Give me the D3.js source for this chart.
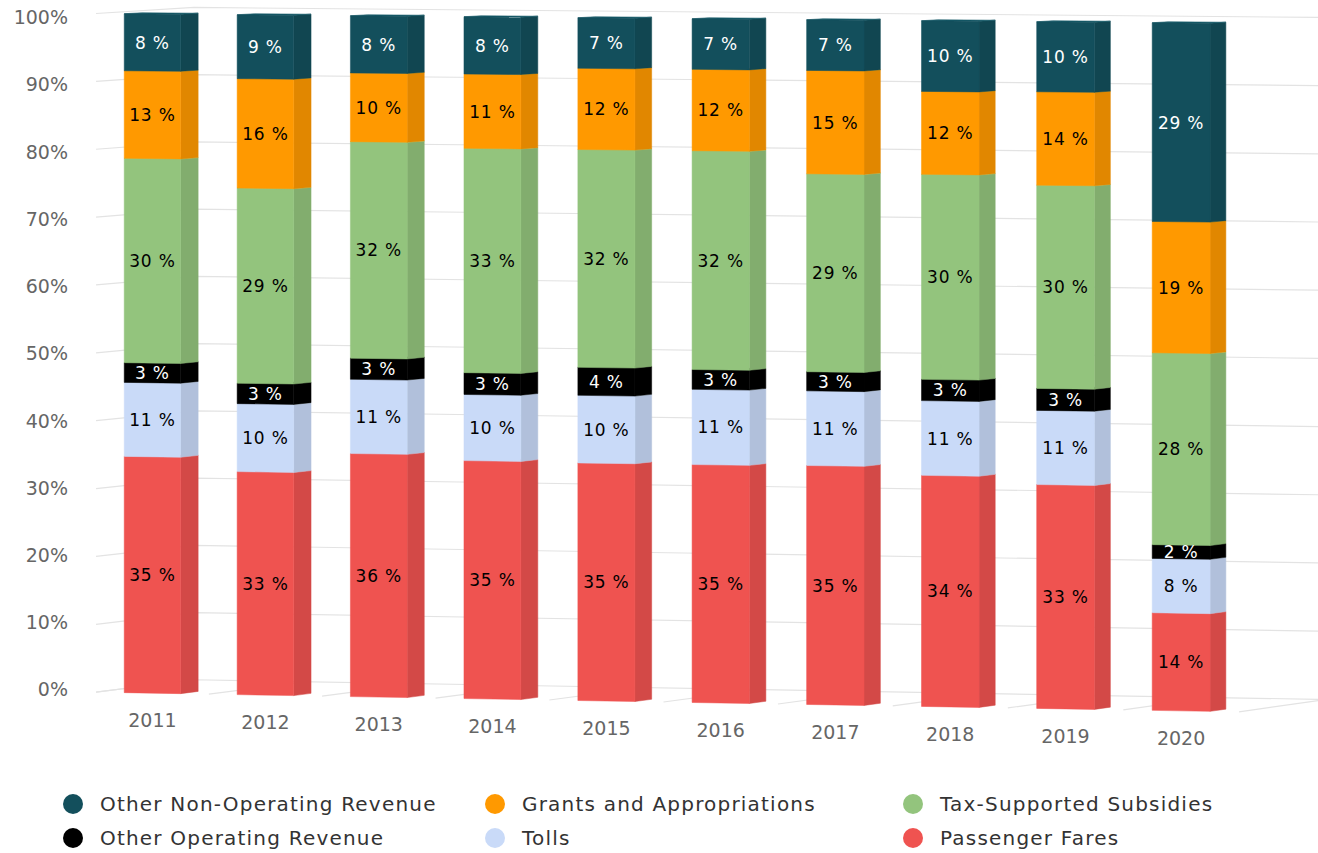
<!DOCTYPE html>
<html lang="en">
<head>
<meta charset="UTF-8">
<title>Revenue mix</title>
<style>
  body { margin: 0; background: #fff; }
  svg { display: block; font-family: "DejaVu Sans", sans-serif; }
</style>
</head>
<body>
<div id="chart"></div>
<script src="https://d3js.org/d3.v7.min.js"></script>
<script>

// ---- data (percent of total revenue) ----
const years = ["2011", "2012", "2013", "2014", "2015", "2016", "2017", "2018", "2019", "2020"];
const passengerFares    = [34.8, 32.8, 35.7, 34.9, 34.8, 34.8, 34.9, 33.7, 32.6, 14.2];
const tolls             = [10.9, 10.0, 10.9,  9.7,  9.9, 11.0, 10.9, 10.9, 10.8,  7.9];
const otherOperating    = [ 2.9,  3.0,  3.1,  3.2,  4.1,  2.9,  2.8,  3.1,  3.2,  2.0];
const taxSubsidies      = [30.1, 28.7, 31.8, 32.9, 31.9, 32.0, 28.9, 29.9, 29.6, 27.9];
const grants            = [12.9, 16.1, 10.1, 10.9, 11.9, 11.9, 15.1, 12.1, 13.6, 19.1];
const otherNonOperating = [ 8.4,  9.4,  8.4,  8.4,  7.4,  7.4,  7.4, 10.3, 10.2, 28.9];
const yTicks = [0, 10, 20, 30, 40, 50, 60, 70, 80, 90, 100];

// stack order, bottom to top
const series = [
  { key: "fares",  name: "Passenger Fares",             values: passengerFares,    color: "#ef5350", label: "#000" },
  { key: "tolls",  name: "Tolls",                       values: tolls,             color: "#c9daf8", label: "#000" },
  { key: "oper",   name: "Other Operating Revenue",     values: otherOperating,    color: "#000000", label: "#fff" },
  { key: "tax",    name: "Tax-Supported Subsidies",     values: taxSubsidies,      color: "#93c47d", label: "#000" },
  { key: "grants", name: "Grants and Appropriations",   values: grants,            color: "#ff9900", label: "#000" },
  { key: "nonop",  name: "Other Non-Operating Revenue", values: otherNonOperating, color: "#134f5c", label: "#fff" }
];
// legend order as in the picture
const legendOrder = ["nonop", "grants", "tax", "oper", "tolls", "fares"];

const width = 1318, height = 853;
const plotLeft = 92, plotRight = 1235, plotTop = 18.5, plotBottom = 702;

// ---- simple 3d view (slight turn to the right, perspective) ----
const chartDepth = 100, barDepth = 18;
const CX = (plotLeft + plotRight) / 2, CY = (plotTop + plotBottom) / 2;
const KX = 1.24e-5, TY = 0.013, KZ = 9.3e-5, DX = 0.927, DY = -0.092;

function proj(x, y, z) {
  const r = x - CX;
  const s = 1 + KX * r - KZ * z;
  return [CX + r * s + z * DX, CY + (y - CY) * s + r * TY + z * DY];
}
function poly(pts) {
  return "M" + pts.map(p => p[0].toFixed(2) + "," + p[1].toFixed(2)).join("L") + "Z";
}

const x = d3.scaleBand()
  .domain(years)
  .range([plotLeft, plotRight])
  .paddingInner(0.5)
  .paddingOuter(0.25);

const y = d3.scaleLinear()
  .domain([0, 100])
  .range([plotBottom, plotTop]);

const table = years.map((yr, i) => {
  const row = { year: yr };
  series.forEach(s => row[s.key] = s.values[i]);
  return row;
});
const stacked = d3.stack().keys(series.map(s => s.key))(table);

const svg = d3.select("#chart").append("svg")
  .attr("width", width)
  .attr("height", height);

// ---- walls: gridlines on side wall, back wall, floor lines ----
const grid = svg.append("g")
  .attr("fill", "none")
  .attr("stroke", "#e3e3e3")
  .attr("stroke-width", 1.2);

yTicks.forEach(t => {
  const a = proj(plotLeft, y(t), 0), b = proj(plotLeft, y(t), chartDepth), c = proj(plotRight, y(t), chartDepth);
  grid.append("path").attr("d", "M" + a + "L" + b + "L" + c);
});

const step = x.step();
d3.range(years.length + 1).forEach(k => {
  const bx = plotLeft + k * step;
  const a = proj(bx, y(0), 0), b = proj(bx, y(0), chartDepth);
  grid.append("path").attr("d", "M" + a + "L" + b);
});

// ---- y axis labels ----
svg.append("g")
  .selectAll("text")
  .data(yTicks)
  .join("text")
  .attr("x", 68)
  .attr("y", d => proj(plotLeft, y(d), chartDepth)[1] + 10)
  .attr("dy", "0.35em")
  .attr("text-anchor", "end")
  .attr("font-size", 19)
  .attr("fill", "#666")
  .text(d => d + "%");

// ---- x axis labels ----
svg.append("g")
  .selectAll("text")
  .data(years)
  .join("text")
  .attr("x", d => proj(x(d) + x.bandwidth() / 2, y(0), 0)[0])
  .attr("y", d => proj(x(d) + x.bandwidth() / 2, y(0), 0)[1] + 27)
  .attr("dy", "0.35em")
  .attr("text-anchor", "middle")
  .attr("font-size", 19)
  .attr("fill", "#666")
  .text(d => d);

// ---- bars ----
const bars = svg.append("g");
years.forEach((yr, i) => {
  const x0 = x(yr), x1 = x0 + x.bandwidth();
  const g = bars.append("g").attr("class", "bar");
  stacked.forEach((layer, si) => {
    const s = series[si];
    const yb = y(layer[i][0]), yt = y(layer[i][1]);
    const side = d3.color(s.color).darker(0.35);
    const top = d3.color(s.color).brighter(0.3);
    const sideColor = s.key === "oper" ? "#000" : side.formatHex();
    g.append("path")
      .attr("d", poly([proj(x1, yt, 0), proj(x1, yt, barDepth), proj(x1, yb, barDepth), proj(x1, yb, 0)]))
      .attr("fill", sideColor).attr("stroke", sideColor).attr("stroke-width", 0.5);
    g.append("path")
      .attr("d", poly([proj(x0, yt, 0), proj(x1, yt, 0), proj(x1, yt, barDepth), proj(x0, yt, barDepth)]))
      .attr("fill", top.formatHex()).attr("stroke", top.formatHex()).attr("stroke-width", 0.5);
    g.append("path")
      .attr("d", poly([proj(x0, yt, 0), proj(x1, yt, 0), proj(x1, yb, 0), proj(x0, yb, 0)]))
      .attr("fill", s.color).attr("stroke", s.color).attr("stroke-width", 0.5);
  });
});

// ---- data labels ----
const labels = svg.append("g")
  .attr("font-size", 17)
  .attr("text-anchor", "middle");
years.forEach((yr, i) => {
  const cx = x(yr) + x.bandwidth() / 2;
  stacked.forEach((layer, si) => {
    const s = series[si];
    const p = proj(cx, (y(layer[i][0]) + y(layer[i][1])) / 2, 0);
    labels.append("text")
      .attr("x", p[0])
      .attr("y", p[1])
      .attr("dy", "0.36em")
      .attr("fill", s.label)
      .attr("letter-spacing", 0.8)
      .text(Math.round(s.values[i]) + " %");
  });
});

// ---- legend ----
const legendX = [73, 495, 913];
const legendY = [804, 838];
const legend = svg.append("g")
  .selectAll("g")
  .data(legendOrder.map(k => series.find(s => s.key === k)))
  .join("g")
  .attr("transform", (d, i) => "translate(" + legendX[i % 3] + "," + legendY[Math.floor(i / 3)] + ")");
legend.append("circle")
  .attr("r", 10)
  .attr("fill", d => d.color);
legend.append("text")
  .attr("x", 27)
  .attr("dy", "0.35em")
  .attr("font-size", 20)
  .attr("letter-spacing", 1.2)
  .attr("fill", "#333")
  .text(d => d.name);

</script>
</body>
</html>
